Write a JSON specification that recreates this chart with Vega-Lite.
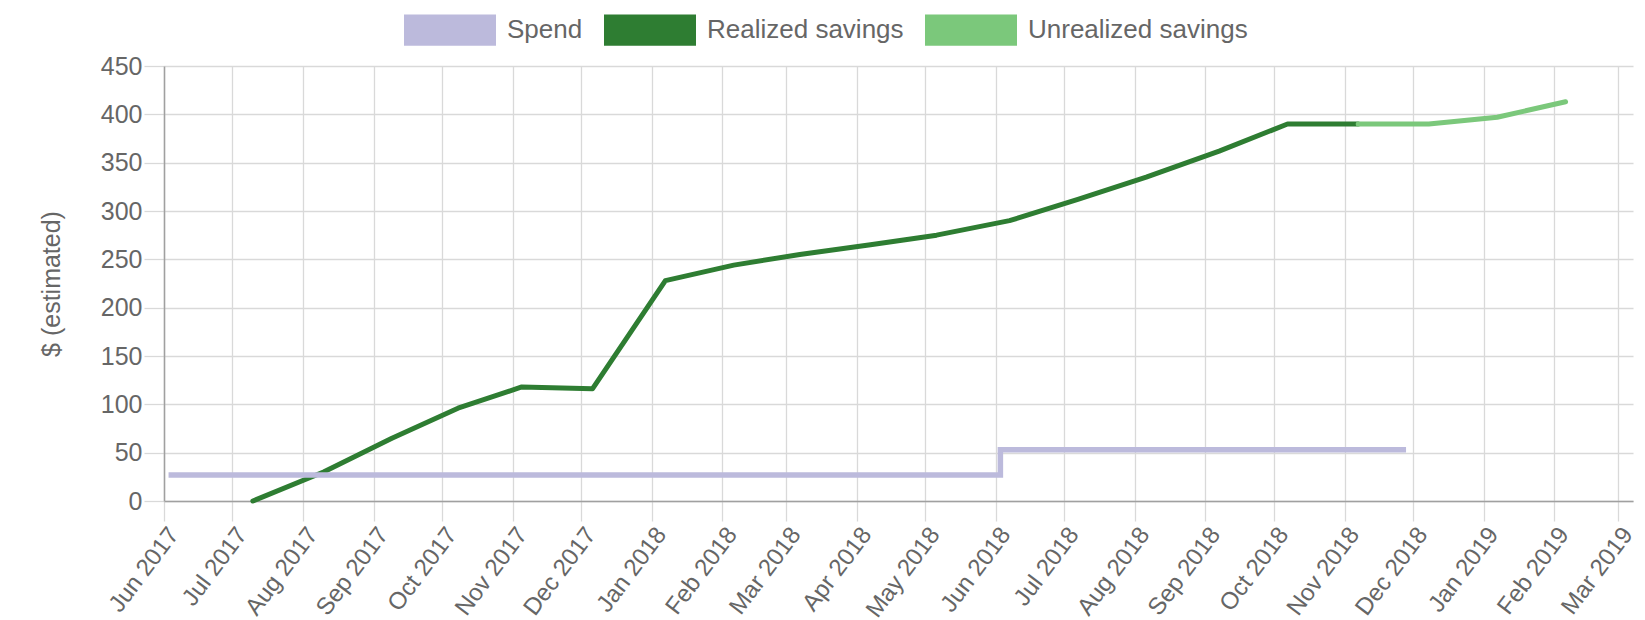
{
  "$schema": "https://vega.github.io/schema/vega-lite/v6.json",
  "width": 1469,
  "height": 435,
  "autosize": {"type": "none"},
  "padding": {"left": 164, "top": 66, "right": 12, "bottom": 119},
  "background": "white",
  "config": {
    "view": {"stroke": null},
    "font": "Liberation Sans",
    "axis": {
      "labelFont": "Liberation Sans",
      "labelFontSize": 25,
      "labelColor": "#666666",
      "labelLimit": 0,
      "titleFont": "Liberation Sans",
      "titleFontSize": 25,
      "titleFontWeight": "normal",
      "titleColor": "#666666",
      "gridColor": "#d9d9d9",
      "gridWidth": 1.3,
      "tickColor": "#d9d9d9",
      "tickWidth": 1.3,
      "tickSize": 20,
      "domainColor": "#a0a0a0",
      "domainWidth": 1.5
    }
  },
  "data": {
    "values": [
      {"date": "2017-06-03", "value": 27, "series": "Spend"},
      {"date": "2018-06-03", "value": 53, "series": "Spend"},
      {"date": "2018-11-28", "value": 53, "series": "Spend"},
      {"date": "2017-07-10", "value": 0, "series": "Realized savings"},
      {"date": "2017-08-10", "value": 30, "series": "Realized savings"},
      {"date": "2017-09-09", "value": 65, "series": "Realized savings"},
      {"date": "2017-10-08", "value": 96, "series": "Realized savings"},
      {"date": "2017-11-05", "value": 118, "series": "Realized savings"},
      {"date": "2017-12-06", "value": 116, "series": "Realized savings"},
      {"date": "2018-01-07", "value": 228, "series": "Realized savings"},
      {"date": "2018-02-06", "value": 244, "series": "Realized savings"},
      {"date": "2018-03-07", "value": 255, "series": "Realized savings"},
      {"date": "2018-04-07", "value": 265, "series": "Realized savings"},
      {"date": "2018-05-06", "value": 275, "series": "Realized savings"},
      {"date": "2018-06-07", "value": 290, "series": "Realized savings"},
      {"date": "2018-07-07", "value": 312, "series": "Realized savings"},
      {"date": "2018-08-06", "value": 335, "series": "Realized savings"},
      {"date": "2018-09-07", "value": 362, "series": "Realized savings"},
      {"date": "2018-10-07", "value": 390, "series": "Realized savings"},
      {"date": "2018-11-07", "value": 390, "series": "Realized savings"},
      {"date": "2018-11-07", "value": 390, "series": "Unrealized savings"},
      {"date": "2018-12-08", "value": 390, "series": "Unrealized savings"},
      {"date": "2019-01-07", "value": 397, "series": "Unrealized savings"},
      {"date": "2019-02-06", "value": 413, "series": "Unrealized savings"}
    ]
  },
  "encoding": {
    "x": {
      "field": "date",
      "type": "temporal",
      "scale": {
        "type": "utc",
        "domain": [
          {"year": 2017, "month": "jun", "date": 1, "utc": true},
          {"year": 2019, "month": "mar", "date": 7, "hours": 14, "utc": true}
        ]
      },
      "axis": {
        "title": null,
        "format": "%b %Y",
        "tickCount": {"interval": "month", "step": 1},
        "labelAngle": -53,
        "labelFontSize": 24,
        "labelAlign": "right",
        "labelBaseline": "top",
        "labelPadding": 2,
        "labelOverlap": false,
        "labelFlush": false,
        "labelBound": false
      }
    },
    "y": {
      "field": "value",
      "type": "quantitative",
      "scale": {"domain": [0, 450], "nice": false},
      "axis": {
        "title": "$ (estimated)",
        "values": [0, 50, 100, 150, 200, 250, 300, 350, 400, 450],
        "labelPadding": 2,
        "titlePadding": 36
      }
    },
    "color": {
      "field": "series",
      "type": "nominal",
      "scale": {
        "domain": ["Spend", "Realized savings", "Unrealized savings"],
        "range": ["#bcbadc", "#2e7d32", "#7bc87b"]
      },
      "legend": {
        "title": null,
        "orient": "none",
        "direction": "horizontal",
        "legendX": 240,
        "legendY": -82,
        "padding": 0,
        "symbolType": "M-1,-0.34H1V0.34H-1Z",
        "symbolSize": 8464,
        "symbolStrokeWidth": 0,
        "labelFont": "Liberation Sans",
        "labelFontSize": 26,
        "labelLimit": 0,
        "labelColor": "#666666",
        "labelOffset": 11,
        "columnPadding": 21,
        "encode": {
          "symbols": {
            "update": {
              "fill": {"signal": "scale('color', datum.value)"},
              "opacity": {"value": 1}
            }
          }
        }
      }
    }
  },
  "layer": [
    {
      "transform": [{"filter": "datum.series !== 'Spend'"}],
      "mark": {"type": "line", "strokeWidth": 5, "strokeCap": "round", "strokeJoin": "round"}
    },
    {
      "transform": [{"filter": "datum.series === 'Spend'"}],
      "mark": {"type": "line", "interpolate": "step-after", "strokeWidth": 5.5}
    }
  ]
}
